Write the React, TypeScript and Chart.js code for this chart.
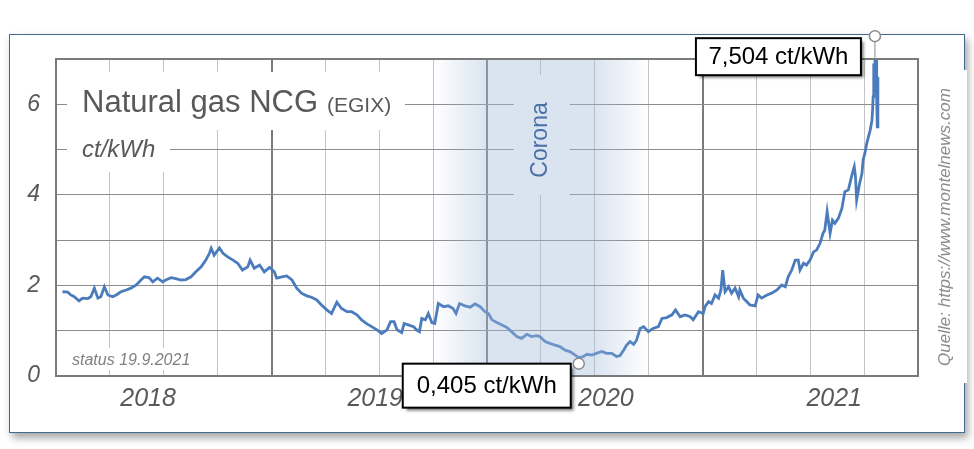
import React, { useEffect, useRef } from 'react';
import { Chart, registerables } from 'chart.js';

Chart.register(...registerables);

// ---- data (days since 1 Jan 2018, price in ct/kWh) ----
const days = [
  11, 20, 25, 31, 39, 45, 54, 59, 65, 71, 76, 82, 88, 96, 102, 110, 119, 127, 136, 144,
  150, 158, 164, 172, 181, 186, 195, 203, 212, 220, 229, 237, 246, 254, 260, 263, 268, 277, 283, 291,
  300, 308, 316, 325, 329, 336, 345, 353, 362, 370, 374, 383, 391, 400, 408, 416, 425, 433, 442, 450,
  459, 467, 476, 484, 493, 501, 510, 518, 527, 535, 544, 552, 561, 567, 573, 578, 586, 590, 597, 606,
  611, 616, 620, 626, 631, 637, 642, 648, 657, 665, 673, 678, 684, 693, 702, 710, 719, 727, 733, 739,
  747, 755, 764, 772, 781, 789, 798, 806, 815, 820, 829, 837, 846, 854, 863, 871, 880, 886, 894, 900,
  908, 916, 925, 933, 942, 950, 956, 962, 967, 973, 979, 984, 990, 996, 1004, 1012, 1021, 1027, 1035, 1044,
  1050, 1058, 1066, 1075, 1080, 1089, 1097, 1100, 1106, 1111, 1117, 1123, 1127, 1130, 1134, 1140, 1145, 1151, 1157, 1159,
  1165, 1171, 1176, 1185, 1190, 1196, 1205, 1213, 1222, 1230, 1236, 1241, 1247, 1253, 1258, 1261, 1267, 1272, 1278, 1284,
  1289, 1295, 1300, 1303, 1307, 1312, 1316, 1320, 1326, 1332, 1337, 1343, 1349, 1353, 1355, 1357, 1362, 1366, 1368, 1371,
  1374, 1377, 1380, 1383, 1384, 1385, 1386, 1387, 1388, 1389, 1390, 1391, 1392, 1393,
];
const prices = [
  1.86, 1.85, 1.79, 1.75, 1.66, 1.72, 1.71, 1.75, 1.94, 1.72, 1.75, 1.97, 1.79, 1.75, 1.79, 1.86, 1.9, 1.94, 2.01, 2.12,
  2.19, 2.17, 2.08, 2.16, 2.08, 2.12, 2.17, 2.15, 2.12, 2.13, 2.19, 2.3, 2.41, 2.56, 2.71, 2.82, 2.67, 2.83, 2.71, 2.63,
  2.56, 2.49, 2.34, 2.41, 2.56, 2.38, 2.45, 2.3, 2.4, 2.3, 2.16, 2.19, 2.21, 2.12, 1.94, 1.83, 1.77, 1.74, 1.68, 1.57,
  1.46, 1.38, 1.63, 1.49, 1.42, 1.42, 1.35, 1.24, 1.15, 1.09, 1.02, 0.94, 1.02, 1.2, 1.2, 1.02, 0.96, 1.16, 1.13, 1.09,
  1.02, 0.98, 1.27, 1.24, 1.38, 1.18, 1.16, 1.6, 1.53, 1.55, 1.49, 1.38, 1.6, 1.55, 1.52, 1.59, 1.53, 1.42, 1.38, 1.24,
  1.18, 1.13, 1.07, 0.98, 0.87, 0.83, 0.92, 0.87, 0.89, 0.87, 0.76, 0.72, 0.68, 0.65, 0.57, 0.54, 0.46, 0.405, 0.43, 0.48,
  0.46, 0.5, 0.54, 0.5, 0.5, 0.43, 0.45, 0.57, 0.68, 0.76, 0.7, 0.79, 1.05, 1.09, 0.98, 1.05, 1.09, 1.27, 1.29, 1.35,
  1.46, 1.31, 1.35, 1.31, 1.24, 1.42, 1.38, 1.53, 1.64, 1.6, 1.79, 1.72, 1.9, 2.34, 1.86, 1.97, 1.83, 1.94, 1.75, 1.9,
  1.72, 1.64, 1.57, 1.55, 1.79, 1.72, 1.79, 1.83, 1.9, 2.01, 1.97, 2.19, 2.34, 2.56, 2.56, 2.34, 2.49, 2.45, 2.56, 2.74,
  2.78, 2.93, 3.15, 3.22, 3.63, 3.15, 3.44, 3.37, 3.48, 3.7, 4.07, 4.11, 4.44, 4.62, 4.4, 3.89, 4.25, 4.47, 4.77, 4.92,
  5.13, 5.28, 5.43, 5.65, 5.87, 6.17, 6.9, 6.3, 7.504, 6.4, 7.2, 6.1, 5.5, 6.6,
];

const axisEndDay = 1461; // 4 years
const quarterCount = 16;
const yearLabels = ['2018', '2019', '2020', '2021'];
const yearLabelDays = [156, 541, 932, 1319];
const yMin = 0;
const yMax = 7;
const coronaDays = [639, 730, 913, 1005]; // fade-in start, full start, full end, fade-out end
const maxPoint = [1388, 7.504];
const minPoint = [886, 0.405];

const titleMain = 'Natural gas NCG';
const titleSub = '(EGIX)';
const unitLabel = 'ct/kWh';
const statusText = 'status 19.9.2021';
const sourceText = 'Quelle: https://www.montelnews.com';
const bandLabel = 'Corona';
const unitSuffix = ' ct/kWh';

const FONT = '"Liberation Sans", Arial, Helvetica, sans-serif';
const GREY_TEXT = '#595959';

const fmt = (v: number) => v.toFixed(3).replace('.', ',') + unitSuffix;

function labelBox(ctx: CanvasRenderingContext2D, x: number, y: number, w: number, h: number, text: string) {
  ctx.save();
  ctx.shadowColor = 'rgba(0,0,0,0.55)';
  ctx.shadowBlur = 3;
  ctx.shadowOffsetX = 3;
  ctx.shadowOffsetY = 3;
  ctx.fillStyle = '#ffffff';
  ctx.fillRect(x, y, w, h);
  ctx.restore();
  ctx.save();
  ctx.strokeStyle = '#000000';
  ctx.lineWidth = 2;
  ctx.strokeRect(x, y, w, h);
  ctx.fillStyle = '#000000';
  ctx.font = `24px ${FONT}`;
  ctx.textAlign = 'center';
  ctx.textBaseline = 'middle';
  ctx.fillText(text, x + w / 2, y + h / 2 + 1);
  ctx.restore();
}

function marker(ctx: CanvasRenderingContext2D, x: number, y: number) {
  ctx.save();
  ctx.beginPath();
  ctx.arc(x, y, 5.5, 0, Math.PI * 2);
  ctx.fillStyle = '#ffffff';
  ctx.fill();
  ctx.strokeStyle = '#8a8a8a';
  ctx.lineWidth = 1.5;
  ctx.stroke();
  ctx.restore();
}

const decorPlugin = {
  id: 'decor',
  beforeDraw(chart: any) {
    const ctx: CanvasRenderingContext2D = chart.ctx;
    ctx.save();
    ctx.fillStyle = '#ffffff';
    ctx.fillRect(0, 0, chart.width, chart.height);
    ctx.shadowColor = 'rgba(0,0,0,0.35)';
    ctx.shadowBlur = 8;
    ctx.shadowOffsetX = 3;
    ctx.shadowOffsetY = 5;
    ctx.fillRect(9, 34, 956, 399);
    ctx.restore();
    ctx.save();
    ctx.strokeStyle = '#44698f';
    ctx.lineWidth = 1;
    ctx.strokeRect(9.5, 34.5, 955, 398);
    ctx.fillStyle = '#ffffff';
    ctx.fillRect(926, 70, 41, 313);
    ctx.restore();
  },
  afterDatasetsDraw(chart: any) {
    const ctx: CanvasRenderingContext2D = chart.ctx;
    const xs = chart.scales.x;
    const ys = chart.scales.y;
    const area = chart.chartArea;

    // Corona band (translucent, over the line)
    const b0 = xs.getPixelForValue(coronaDays[0]);
    const b1 = xs.getPixelForValue(coronaDays[1]);
    const b2 = xs.getPixelForValue(coronaDays[2]);
    const b3 = xs.getPixelForValue(coronaDays[3]);
    ctx.save();
    const g = ctx.createLinearGradient(b0, 0, b3, 0);
    const span = b3 - b0;
    g.addColorStop(0, 'rgba(163,188,218,0)');
    g.addColorStop((b1 - b0) / span, 'rgba(163,188,218,0.4)');
    g.addColorStop((b2 - b0) / span, 'rgba(163,188,218,0.4)');
    g.addColorStop(1, 'rgba(163,188,218,0)');
    ctx.fillStyle = g;
    ctx.fillRect(b0, area.top, span, area.bottom - area.top);
    // Corona label
    const cx = (b1 + b2) / 2;
    ctx.fillStyle = 'rgb(218,228,240)';
    ctx.fillRect(cx - 27, area.top + 16, 56, 120);
    ctx.translate(cx, area.top + 81);
    ctx.rotate(-Math.PI / 2);
    ctx.fillStyle = '#4a6ea5';
    ctx.font = `23px ${FONT}`;
    ctx.textAlign = 'center';
    ctx.textBaseline = 'middle';
    ctx.fillText(bandLabel, 0, 0);
    ctx.restore();

    // title boxes + text
    ctx.save();
    ctx.fillStyle = '#ffffff';
    ctx.fillRect(area.left + 11, area.top + 13, 338, 58);
    ctx.fillRect(area.left + 11, area.top + 71, 103, 42);
    ctx.fillRect(area.left + 11, area.top + 289, 133, 22);
    ctx.fillStyle = GREY_TEXT;
    ctx.textBaseline = 'alphabetic';
    ctx.font = `31px ${FONT}`;
    ctx.fillText(titleMain, area.left + 26, area.top + 53);
    const w = ctx.measureText(titleMain).width;
    ctx.font = `21px ${FONT}`;
    ctx.fillText(titleSub, area.left + 26 + w + 9, area.top + 53);
    ctx.font = `italic 24px ${FONT}`;
    ctx.fillText(unitLabel, area.left + 26, area.top + 98);
    ctx.fillStyle = '#7f7f7f';
    ctx.font = `italic 16px ${FONT}`;
    ctx.fillText(statusText, area.left + 16, area.top + 306);
    ctx.restore();

    // plot border
    ctx.save();
    ctx.strokeStyle = '#7a7a7a';
    ctx.lineWidth = 2;
    ctx.strokeRect(area.left, area.top, area.right - area.left, area.bottom - area.top);
    ctx.restore();

    // max annotation
    const mx = xs.getPixelForValue(maxPoint[0]);
    const my = ys.getPixelForValue(maxPoint[1]);
    ctx.save();
    ctx.strokeStyle = '#8a8a8a';
    ctx.lineWidth = 1;
    ctx.beginPath();
    ctx.moveTo(mx, my);
    ctx.lineTo(mx, area.top);
    ctx.stroke();
    ctx.restore();
    labelBox(ctx, mx - 14 - 165, my + 2, 165, 37, fmt(maxPoint[1]));
    marker(ctx, mx, my);

    // min annotation
    const nx = xs.getPixelForValue(minPoint[0]);
    const ny = ys.getPixelForValue(minPoint[1]) + 6;
    labelBox(ctx, nx - 8 - 168, ny, 168, 44, fmt(minPoint[1]));
    marker(ctx, nx, ny);

    // source
    ctx.save();
    ctx.translate(945, 227);
    ctx.rotate(-Math.PI / 2);
    ctx.fillStyle = '#8c8c8c';
    ctx.font = `italic 17px ${FONT}`;
    ctx.textAlign = 'center';
    ctx.textBaseline = 'middle';
    ctx.fillText(sourceText, 0, 0);
    ctx.restore();
  },
};

export default function App() {
  const ref = useRef<HTMLCanvasElement | null>(null);

  useEffect(() => {
    if (!ref.current) return;
    const quarterTicks = Array.from({ length: quarterCount + 1 }, (_, i) => ({ value: (i * axisEndDay) / quarterCount }));
    const points = days.map((d, i) => ({ x: d, y: prices[i] }));
    const chart = new Chart(ref.current, {
      type: 'line',
      data: {
        datasets: [
          {
            data: points,
            xAxisID: 'x',
            yAxisID: 'y',
            borderColor: '#4a7bbd',
            borderWidth: 2.8,
            pointRadius: 0,
            tension: 0,
            fill: false,
          },
        ],
      },
      options: {
        animation: false,
        responsive: false,
        devicePixelRatio: 1,
        events: [],
        layout: { padding: { left: 0, right: 56, top: 59, bottom: 0 } },
        plugins: { legend: { display: false }, tooltip: { enabled: false }, title: { display: false } },
        scales: {
          x: {
            type: 'linear',
            position: 'bottom',
            min: 0,
            max: axisEndDay,
            afterBuildTicks: (s: any) => {
              s.ticks = quarterTicks.map((t) => ({ ...t }));
            },
            afterFit: (s: any) => {
              s.height = 0;
            },
            ticks: { display: false },
            border: { display: false },
            grid: {
              drawTicks: false,
              color: (c: any) => (c.index % 4 === 0 ? '#7a7a7a' : '#c4c4c4'),
              lineWidth: (c: any) => (c.index % 4 === 0 ? 2 : 1),
            },
          },
          x2: {
            type: 'linear',
            position: 'bottom',
            min: 0,
            max: axisEndDay,
            afterBuildTicks: (s: any) => {
              s.ticks = yearLabelDays.map((v) => ({ value: v }));
            },
            afterFit: (s: any) => {
              s.height = 73;
            },
            border: { display: false },
            grid: { display: false, drawTicks: false },
            ticks: {
              autoSkip: false,
              maxRotation: 0,
              padding: 8,
              color: GREY_TEXT,
              font: { family: FONT, size: 25, style: 'italic' },
              callback: (_v: any, i: number) => yearLabels[i],
            },
          },
          y: {
            type: 'linear',
            min: yMin,
            max: yMax,
            afterFit: (s: any) => {
              s.width = 56;
            },
            border: { display: false },
            grid: { color: '#8c8c8c', lineWidth: 1, drawTicks: false },
            ticks: {
              stepSize: 1,
              padding: 16,
              color: GREY_TEXT,
              font: { family: FONT, size: 23, style: 'italic' },
              callback: (v: any) => (Number(v) % 2 === 0 && Number(v) < yMax ? String(v) : ''),
            },
          },
        },
      },
      plugins: [decorPlugin],
    });
    return () => chart.destroy();
  }, []);

  return (
    <div style={{ position: 'fixed', left: 0, top: 0, width: 974, height: 449, background: '#fff' }}>
      <canvas ref={ref} width={974} height={449} style={{ display: 'block' }} />
    </div>
  );
}
